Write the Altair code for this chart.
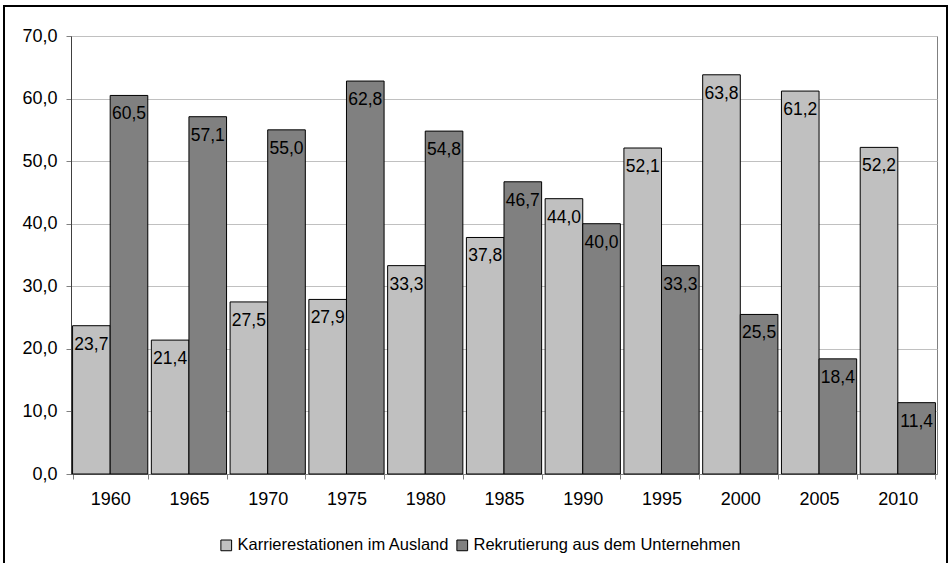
import altair as alt
import pandas as pd

# Jahre und Anteile (in %) der beiden Karrieremuster
years = ["1960", "1965", "1970", "1975", "1980", "1985", "1990", "1995", "2000", "2005", "2010"]
karriere = [23.7, 21.4, 27.5, 27.9, 33.3, 37.8, 44.0, 52.1, 63.8, 61.2, 52.2]
rekrut = [60.5, 57.1, 55.0, 62.8, 54.8, 46.7, 40.0, 33.3, 25.5, 18.4, 11.4]
series = ["Karrierestationen im Ausland", "Rekrutierung aus dem Unternehmen"]
colors = ["#c0c0c0", "#808080"]

rows = []
for i, y in enumerate(years):
    for name, vals in zip(series, [karriere, rekrut]):
        v = vals[i]
        rows.append({"Jahr": y, "Reihe": name, "Wert": v,
                     "Text": f"{v:.1f}".replace(".", ",")})
df = pd.DataFrame(rows)

FONT = "Liberation Sans"

x_enc = alt.X("Jahr:N", sort=years, title=None,
              scale=alt.Scale(paddingInner=0.045, paddingOuter=0.02),
              axis=alt.Axis(labelAngle=0, tickBand="extent", tickSize=5,
                            tickColor="#808080", domainColor="#808080",
                            labelPadding=11, labelFontSize=18, labelFont=FONT,
                            labelColor="black", grid=False))
off_enc = alt.XOffset("Reihe:N", sort=series, scale=alt.Scale(paddingInner=0))
y_enc = alt.Y("Wert:Q", title=None,
              scale=alt.Scale(domain=[0, 70], nice=False),
              axis=alt.Axis(values=list(range(0, 71, 10)),
                            labelExpr="replace(format(datum.value, '.1f'), '.', ',')",
                            tickSize=5, tickColor="#808080", domainColor="#404040",
                            labelPadding=9, labelFontSize=18, labelFont=FONT,
                            labelColor="black", gridColor="#c0c0c0"))

bars = alt.Chart(df).mark_bar(stroke="black", strokeWidth=1, opacity=1).encode(
    x=x_enc,
    xOffset=off_enc,
    y=y_enc,
    color=alt.Color("Reihe:N", sort=series, title=None,
                    scale=alt.Scale(domain=series, range=colors),
                    legend=alt.Legend(orient="none", direction="horizontal",
                                      legendX=147, legendY=501,
                                      symbolType="square", symbolSize=115,
                                      symbolStrokeColor="black", symbolStrokeWidth=1,
                                      symbolOpacity=1, labelLimit=0,
                                      labelFontSize=16.5, labelFont=FONT,
                                      labelColor="black", columnPadding=4,
                                      labelOffset=3)),
)

labels = alt.Chart(df).mark_text(baseline="alphabetic", dy=24, fontSize=17.5,
                                  font=FONT, color="black").encode(
    x=alt.X("Jahr:N", sort=years),
    xOffset=alt.XOffset("Reihe:N", sort=series),
    y="Wert:Q",
    text="Text:N",
)

# Rahmen um die gesamte Grafik
frame = alt.Chart(df).mark_rect(fill=None, stroke="black", strokeWidth=1.5,
                                clip=False).encode(
    x=alt.value(-67), x2=alt.value(876), y=alt.value(-30), y2=alt.value(620)
)

chart = alt.layer(bars, labels, frame).properties(
    width=866, height=438,
    autosize=alt.AutoSizeParams(type="none"),
    padding={"left": 71, "top": 36, "right": 13, "bottom": 89},
    background="white",
).configure_view(stroke="#808080", strokeWidth=1).configure_axis(
    domainWidth=1
)

chart.save("out.html", embed_options={"renderer": "svg", "actions": False})
